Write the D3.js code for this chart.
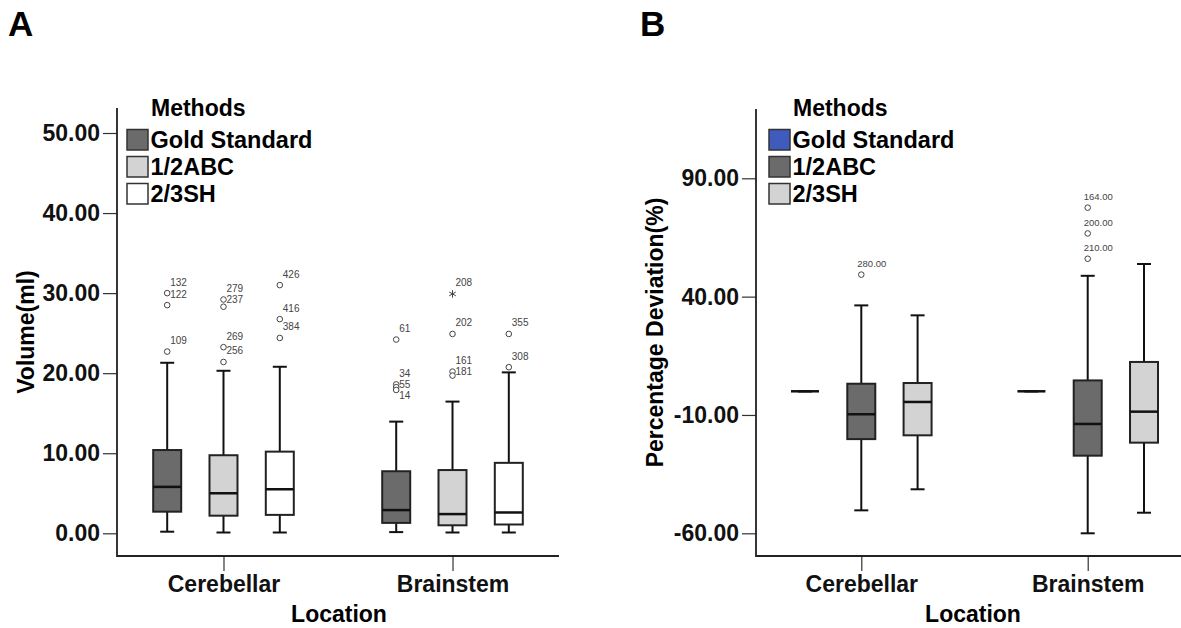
<!DOCTYPE html>
<html>
<head>
<meta charset="utf-8">
<script src="https://cdn.jsdelivr.net/npm/d3@7"></script>
<style>
  body { margin: 0; background: #fff; }
  svg { display: block; font-family: "Liberation Sans", Arial, sans-serif; }
</style>
</head>
<body>
<svg id="chart" width="1181" height="628"></svg>
<script>
// Categories
const locations = ["Cerebellar", "Brainstem"];
const methods = ["Gold Standard", "1/2ABC", "2/3SH"];

// Panel A: volume (ml) five-number summaries
const volumeBoxes = [
  { location: "Cerebellar", method: "Gold Standard", lo: 0.2, q1: 2.7, med: 5.8, q3: 10.4, hi: 21.3 },
  { location: "Cerebellar", method: "1/2ABC", lo: 0.1, q1: 2.2, med: 5.0, q3: 9.75, hi: 20.3 },
  { location: "Cerebellar", method: "2/3SH", lo: 0.1, q1: 2.3, med: 5.5, q3: 10.2, hi: 20.8 },
  { location: "Brainstem", method: "Gold Standard", lo: 0.15, q1: 1.3, med: 2.9, q3: 7.75, hi: 13.95 },
  { location: "Brainstem", method: "1/2ABC", lo: 0.1, q1: 1.0, med: 2.4, q3: 7.9, hi: 16.45 },
  { location: "Brainstem", method: "2/3SH", lo: 0.1, q1: 1.1, med: 2.6, q3: 8.8, hi: 20.1 }
];

const volumeOutliers = [
  { location: "Cerebellar", method: "Gold Standard", value: 30.0, label: "132" },
  { location: "Cerebellar", method: "Gold Standard", value: 28.5, label: "122" },
  { location: "Cerebellar", method: "Gold Standard", value: 22.7, label: "109" },
  { location: "Cerebellar", method: "1/2ABC", value: 29.2, label: "279" },
  { location: "Cerebellar", method: "1/2ABC", value: 28.3, label: "237" },
  { location: "Cerebellar", method: "1/2ABC", value: 23.25, label: "269" },
  { location: "Cerebellar", method: "1/2ABC", value: 21.4, label: "256" },
  { location: "Cerebellar", method: "2/3SH", value: 31.0, label: "426" },
  { location: "Cerebellar", method: "2/3SH", value: 26.75, label: "416" },
  { location: "Cerebellar", method: "2/3SH", value: 24.4, label: "384" },
  { location: "Brainstem", method: "Gold Standard", value: 24.2, label: "61" },
  { location: "Brainstem", method: "Gold Standard", value: 18.6, label: "34" },
  { location: "Brainstem", method: "Gold Standard", value: 18.25, label: "55" },
  { location: "Brainstem", method: "Gold Standard", value: 17.9, label: "14" },
  { location: "Brainstem", method: "1/2ABC", value: 29.9, label: "208", extreme: true },
  { location: "Brainstem", method: "1/2ABC", value: 24.9, label: "202" },
  { location: "Brainstem", method: "1/2ABC", value: 20.2, label: "161" },
  { location: "Brainstem", method: "1/2ABC", value: 19.7, label: "181" },
  { location: "Brainstem", method: "2/3SH", value: 24.9, label: "355" },
  { location: "Brainstem", method: "2/3SH", value: 20.75, label: "308" }
];

// Panel B: percentage deviation (%)
const deviationBoxes = [
  { location: "Cerebellar", method: "Gold Standard", lo: 0, q1: 0, med: 0, q3: 0, hi: 0 },
  { location: "Cerebellar", method: "1/2ABC", lo: -50.3, q1: -20.2, med: -9.7, q3: 3.2, hi: 36.3 },
  { location: "Cerebellar", method: "2/3SH", lo: -41.4, q1: -18.6, med: -4.5, q3: 3.5, hi: 32.1 },
  { location: "Brainstem", method: "Gold Standard", lo: 0, q1: 0, med: 0, q3: 0, hi: 0 },
  { location: "Brainstem", method: "1/2ABC", lo: -60.0, q1: -27.2, med: -13.8, q3: 4.6, hi: 48.8 },
  { location: "Brainstem", method: "2/3SH", lo: -51.3, q1: -21.7, med: -8.6, q3: 12.4, hi: 53.8 }
];

const deviationOutliers = [
  { location: "Cerebellar", method: "1/2ABC", value: 49.3, label: "280.00" },
  { location: "Brainstem", method: "1/2ABC", value: 77.6, label: "164.00" },
  { location: "Brainstem", method: "1/2ABC", value: 66.7, label: "200.00" },
  { location: "Brainstem", method: "1/2ABC", value: 56.0, label: "210.00" }
];

const volumeTicks = [0, 10, 20, 30, 40, 50];
const deviationTicks = [-60, -10, 40, 90];

const colorsA = ["#6b6b6b", "#d3d3d3", "#ffffff"];
const colorsB = ["#3e5bbd", "#6b6b6b", "#d3d3d3"];

const svg = d3.select("#chart");
svg.append("rect").attr("width", 1181).attr("height", 628).attr("fill", "#fff");

function drawPanel(opt) {
  const g = svg.append("g");
  const y = d3.scaleLinear().domain(opt.yDomain).range(opt.yRange);
  const x = d3.scalePoint().domain(locations).range([opt.left, opt.right]).padding(0.465);
  const xm = d3.scalePoint().domain(methods).range([-56.3, 56.3]);
  const color = d3.scaleOrdinal().domain(methods).range(opt.colors);
  const boxW = 28, capW = 14;

  // panel letter
  g.append("text").attr("x", opt.letterX).attr("y", 36)
    .attr("font-size", 35).attr("font-weight", "bold").text(opt.letter);

  // y axis
  const yAxis = g.append("g").attr("transform", `translate(${opt.left},0)`)
    .call(d3.axisLeft(y).tickValues(opt.ticks).tickFormat(d => d.toFixed(2)).tickSize(14).tickPadding(3));
  yAxis.select(".domain").remove();
  yAxis.selectAll(".tick line").attr("stroke", "#333").attr("stroke-width", 1.2);
  yAxis.selectAll(".tick text").attr("font-size", 23).attr("font-weight", "bold")
    .attr("font-family", "Liberation Sans, Arial, sans-serif").attr("fill", "#111");

  // x axis
  const xAxis = g.append("g").attr("transform", `translate(0,${opt.bottom})`)
    .call(d3.axisBottom(x).tickSize(15).tickPadding(5));
  xAxis.select(".domain").remove();
  xAxis.selectAll(".tick line").attr("stroke", "#333").attr("stroke-width", 1.2);
  xAxis.selectAll(".tick text").attr("font-size", 23).attr("font-weight", "bold")
    .attr("font-family", "Liberation Sans, Arial, sans-serif").attr("fill", "#111");

  // axis frame lines
  g.append("path")
    .attr("d", `M${opt.left},${opt.top}V${opt.bottom}H${opt.lineEnd}`)
    .attr("fill", "none").attr("stroke", "#222").attr("stroke-width", 1.8);

  // titles
  g.append("text")
    .attr("transform", `translate(${opt.yTitleX},${(opt.top + opt.bottom) / 2}) rotate(-90)`)
    .attr("text-anchor", "middle").attr("font-size", 23).attr("font-weight", "bold")
    .text(opt.yTitle);
  g.append("text").attr("x", opt.xTitleX).attr("y", 622)
    .attr("text-anchor", "middle").attr("font-size", 23).attr("font-weight", "bold")
    .text("Location");

  // boxes
  const cx = d => x(d.location) + xm(d.method);
  const boxes = g.append("g").selectAll("g").data(opt.boxes).join("g");
  boxes.append("line")
    .attr("x1", cx).attr("x2", cx).attr("y1", d => y(d.hi)).attr("y2", d => y(d.lo))
    .attr("stroke", "#111").attr("stroke-width", 2);
  boxes.append("line")
    .attr("x1", d => cx(d) - capW / 2).attr("x2", d => cx(d) + capW / 2)
    .attr("y1", d => y(d.hi)).attr("y2", d => y(d.hi))
    .attr("stroke", "#111").attr("stroke-width", 2);
  boxes.append("line")
    .attr("x1", d => cx(d) - capW / 2).attr("x2", d => cx(d) + capW / 2)
    .attr("y1", d => y(d.lo)).attr("y2", d => y(d.lo))
    .attr("stroke", "#111").attr("stroke-width", 2);
  boxes.append("rect")
    .attr("x", d => cx(d) - boxW / 2).attr("width", boxW)
    .attr("y", d => y(d.q3)).attr("height", d => y(d.q1) - y(d.q3))
    .attr("fill", d => color(d.method)).attr("stroke", "#222").attr("stroke-width", 2);
  boxes.append("line")
    .attr("x1", d => cx(d) - boxW / 2).attr("x2", d => cx(d) + boxW / 2)
    .attr("y1", d => y(d.med)).attr("y2", d => y(d.med))
    .attr("stroke", "#111").attr("stroke-width", 2.5);

  // outliers, labels pushed down when they would overlap
  const groups = d3.group(opt.outliers, d => d.location + "|" + d.method);
  const placed = [];
  for (const list of groups.values()) {
    let prev = -Infinity;
    list.slice().sort((a, b) => b.value - a.value).forEach(d => {
      let ly = y(d.value) - 11;
      if (ly < prev + 11) ly = prev + 11;
      prev = ly;
      placed.push({ ...d, ly });
    });
  }
  const og = g.append("g");
  og.selectAll("circle").data(placed.filter(d => !d.extreme)).join("circle")
    .attr("cx", cx).attr("cy", d => y(d.value)).attr("r", 2.8)
    .attr("fill", "#fff").attr("stroke", "#444").attr("stroke-width", 1);
  og.selectAll("path").data(placed.filter(d => d.extreme)).join("path")
    .attr("transform", d => `translate(${cx(d)},${y(d.value)})`)
    .attr("d", d3.symbol(d3.symbolAsterisk, 40))
    .attr("fill", "none").attr("stroke", "#444").attr("stroke-width", 1);
  og.selectAll("text").data(placed).join("text")
    .attr("x", d => cx(d) + opt.labelDx).attr("y", d => d.ly).attr("dy", "0.35em")
    .attr("font-size", opt.labelSize).attr("fill", "#444").text(d => d.label);

  // legend
  const lg = g.append("g").attr("transform", `translate(${opt.legendX},0)`);
  lg.append("text").attr("x", 25).attr("y", 116).attr("font-size", 23).attr("font-weight", "bold")
    .text("Methods");
  const items = lg.selectAll("g").data(methods).join("g")
    .attr("transform", (d, i) => `translate(0,${129 + i * 27})`);
  items.append("rect").attr("x", 1).attr("y", 0.5).attr("width", 21).attr("height", 20.5)
    .attr("fill", d => color(d)).attr("stroke", "#333").attr("stroke-width", 1.5);
  items.append("text").attr("x", 24.5).attr("y", 19).attr("font-size", 23.5).attr("font-weight", "bold")
    .text(d => d);
}

drawPanel({
  letter: "A", letterX: 8,
  yDomain: [0, 50], yRange: [533.3, 133], ticks: volumeTicks,
  left: 117, right: 559, top: 108, bottom: 556, lineEnd: 559,
  yTitle: "Volume(ml)", yTitleX: 34, xTitleX: 339,
  boxes: volumeBoxes, outliers: volumeOutliers, colors: colorsA,
  labelDx: 3, labelSize: 10, legendX: 126
});

drawPanel({
  letter: "B", letterX: 640,
  yDomain: [-60, 90], yRange: [533.3, 178.3], ticks: deviationTicks,
  left: 756, right: 1193, top: 109, bottom: 556, lineEnd: 1181,
  yTitle: "Percentage Deviation(%)", yTitleX: 663, xTitleX: 973,
  boxes: deviationBoxes, outliers: deviationOutliers, colors: colorsB,
  labelDx: -4, labelSize: 9.5, legendX: 768
});
</script>
</body>
</html>
